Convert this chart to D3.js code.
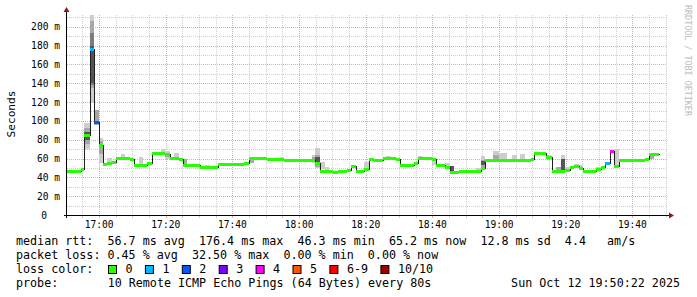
<!DOCTYPE html>
<html><head><meta charset="utf-8">
<script src="https://cdn.jsdelivr.net/npm/d3@7"></script>
<style>
body{margin:0;background:#fff}
svg{display:block}
text{font-family:"DejaVu Sans Mono",monospace;white-space:pre}
</style>
</head><body>
<svg id="c" width="697" height="297"></svg>
<script>
const day = "2025-10-12";
const startTime = "16:50:22", endTime = "19:50:22";

// median rtt (ms), step segments: start times, values, loss count (of 10)
const medianTimes = ["16:50:22","16:54:34","16:55:33","16:57:16","16:58:28","16:59:53","17:01:01","17:02:27","17:03:47","17:05:04",
  "17:09:21","17:10:23","17:14:22","17:15:52","17:19:51","17:21:11","17:23:53","17:25:05","17:30:21","17:35:45",
  "17:43:33","17:45:03","17:50:17","17:55:28","18:04:46","18:06:21","18:10:15","18:11:40","18:14:17","18:15:34",
  "18:16:59","18:19:33","18:20:58","18:22:33","18:25:10","18:28:59","18:30:16","18:34:28","18:35:45","18:39:47",
  "18:40:59","18:43:46","18:45:11","18:47:58","18:52:59","18:54:29","18:55:41","19:09:39","19:10:19","19:14:09",
  "19:15:43","19:19:41","19:21:07","19:22:28","19:23:49","19:25:10","19:28:59","19:30:25","19:31:41","19:33:11",
  "19:34:23","19:35:53","19:43:41","19:44:58"];
const medianEnd = "19:47:58";
const medianValues = [46.6,48.6,85.4,176.4,99.3,74.1,53.9,55.3,56.7,61.0,
  59.2,53.5,55.3,65.6,64.5,61.0,59.2,53.5,51.4,53.9,
  55.0,60.3,59.8,58.2,55.0,46.5,46.2,46.5,48.0,52.3,
  46.5,49.0,59.6,58.2,60.6,59.6,53.5,55.0,60.6,59.4,
  53.4,51.4,46.2,46.5,47.2,50.3,58.2,59.8,65.4,61.5,
  46.6,47.9,51.0,51.7,50.3,46.6,48.6,51.4,55.0,68.4,
  52.5,58.2,59.2,65.2];
const medianLoss = [0,0,0,1,2,0,0,0,0,0,
  0,0,0,0,0,0,0,0,0,0,
  0,0,0,0,0,0,0,0,0,0,
  0,0,0,0,0,0,0,0,0,0,
  0,0,0,0,0,0,0,0,0,0,
  0,0,0,0,0,0,0,0,1,4,
  0,0,0,0];

// smoke: [from, to, low ms, high ms, shade level]
const smoke = [
  ["16:55:33","16:57:16",70,98,0],["16:55:33","16:57:16",75,92,1],["16:55:33","16:57:16",80,88,3],
  ["16:57:16","16:58:28",119,212,0],["16:57:16","16:58:28",135,206,1],["16:57:16","16:58:28",138,193,2],["16:57:16","16:58:28",140,180,3],
  ["16:58:28","16:59:53",96,112,1],
  ["16:59:53","17:01:01",55,82,0],["16:59:53","17:01:01",65,79,1],
  ["17:02:27","17:03:47",55,60.5,0],
  ["17:06:34","17:07:51",61,65,0],
  ["17:11:53","17:13:05",53.5,61.4,0],
  ["17:18:34","17:19:51",65.6,70.2,0],
  ["17:19:51","17:21:11",60,68.4,0],["17:19:51","17:21:11",62,66,1],
  ["17:22:28","17:23:53",61,66,0],
  ["17:25:05","17:26:22",54.3,59.6,1],
  ["17:31:46","17:33:16",51.4,53.5,0],
  ["17:45:03","17:46:28",55,59,1],
  ["17:54:16","17:55:28",58.5,61.4,0],
  ["18:03:43","18:04:46",55,64,0],["18:03:43","18:04:46",57,62,1],
  ["18:04:46","18:06:21",49.7,71,0],["18:04:46","18:06:21",51,64,1],["18:04:46","18:06:21",56.7,61.4,3],
  ["18:06:21","18:07:42",49,56.7,0],
  ["18:07:42","18:09:03",47.9,51.4,0],
  ["18:19:33","18:20:58",49,56,0],
  ["18:25:59","18:27:39",60.6,63,0],
  ["18:35:45","18:37:15",60.6,63,0],
  ["18:39:47","18:40:59",53.5,59.2,0],
  ["18:43:46","18:45:11",51.4,55,0],
  ["18:45:11","18:46:28",46.8,52,3],
  ["18:52:59","18:54:29",47,50,0],
  ["18:54:29","18:55:41",48,62.8,0],["18:54:29","18:55:41",50,58,1],["18:54:29","18:55:41",53,57,3],
  ["18:58:09","18:59:57",58.5,68,0],["18:58:09","18:59:57",58.5,63.8,1],
  ["18:59:57","19:02:21",58.5,65.6,0],
  ["19:03:47","19:05:17",58.5,63.8,0],
  ["19:06:16","19:07:46",59,65,0],
  ["19:14:09","19:15:39",60.3,63.8,0],
  ["19:17:09","19:18:39",46.5,50.7,1],
  ["19:18:39","19:19:51",46.5,63.8,0],["19:18:39","19:19:51",46.5,59.2,3],
  ["19:19:51","19:21:07",47.9,50.7,0],
  ["19:22:28","19:23:53",51.8,54.6,0],
  ["19:23:53","19:25:10",50.3,53,0],
  ["19:28:59","19:30:25",48,51,0],
  ["19:34:23","19:35:53",52.5,70.2,0],
  ["19:43:41","19:44:58",58,61,0],
  ["19:44:58","19:46:23",59.2,65,1]
];
const smokeShades = ["#cdcdcd","#a8a8a8","#7c7c7c","#555555"];

const yMax = 212.5;
const yMinorTicks = d3.range(10, 211, 10);
const yMajorTicks = d3.range(0, 201, 20);
const xLabelTicks = ["17:00","17:20","17:40","18:00","18:20","18:40","19:00","19:20","19:40"];

const lossLabels = ["0","1","2","3","4","5","6-9","10/10"];
const lossColors = ["#26ff00","#00b8ff","#0059ff","#7e00ff","#ff00ff","#ff5500","#ff0000","#a10000"];

const rttStats = ["56.7","176.4","46.3","65.2","12.8"];
const rttAmS = "4.4";
const lossStats = ["0.45","32.50","0.00","0.00"];
const probeText = "10 Remote ICMP Echo Pings (64 Bytes) every 80s";
const stampText = "Sun Oct 12 19:50:22 2025";

const parse = d3.timeParse("%Y-%m-%d %H:%M:%S");
const T = s => parse(day + " " + (s.length === 5 ? s + ":00" : s));

const svg = d3.select("#c");
const L = 67, R = 667, B = 215, TOP = 15;
const x = d3.scaleTime().domain([T(startTime), T(endTime)]).range([L, R]);
const y = d3.scaleLinear().domain([0, yMax]).range([B, TOP]);
const px = v => Math.round(v) + 0.5;

// grid
const g = svg.append("g").attr("shape-rendering","crispEdges");
const minorCol = "rgba(128,128,128,0.38)", majorCol = "rgba(255,0,0,0.38)";
const minorX = x.ticks(d3.timeMinute.every(5)).filter(d => d.getMinutes() % 20 !== 0);
g.selectAll(".vx").data(minorX).join("line")
  .attr("x1", d => px(x(d))).attr("x2", d => px(x(d))).attr("y1", TOP).attr("y2", B)
  .attr("stroke", minorCol).attr("stroke-dasharray","1,1");
g.selectAll(".hy").data(yMinorTicks.filter(v => v % 20 !== 0)).join("line")
  .attr("x1", L).attr("x2", R).attr("y1", d => px(y(d))).attr("y2", d => px(y(d)))
  .attr("stroke", minorCol).attr("stroke-dasharray","1,1");
const majorX = xLabelTicks.map(T);
g.selectAll(".mx").data(majorX).join("line")
  .attr("x1", d => px(x(d))).attr("x2", d => px(x(d))).attr("y1", TOP).attr("y2", B)
  .attr("stroke", majorCol).attr("stroke-dasharray","1,1");
g.selectAll(".my").data(yMajorTicks.filter(v => v > 0)).join("line")
  .attr("x1", L).attr("x2", R).attr("y1", d => px(y(d))).attr("y2", d => px(y(d)))
  .attr("stroke", majorCol).attr("stroke-dasharray","1,1");

// smoke
svg.append("g").attr("shape-rendering","crispEdges").selectAll("rect").data(smoke).join("rect")
  .attr("x", d => Math.round(x(T(d[0])))).attr("width", d => Math.round(x(T(d[1]))) - Math.round(x(T(d[0]))))
  .attr("y", d => Math.round(y(d[3]))).attr("height", d => Math.round(y(d[2])) - Math.round(y(d[3])))
  .attr("fill", d => smokeShades[d[4]]);

// median line
const pts = medianTimes.map((t, i) => [x(T(t)), y(medianValues[i])]);
pts.push([x(T(medianEnd)), y(medianValues[medianValues.length - 1])]);
svg.append("path").attr("d", d3.line().curve(d3.curveStepAfter)(pts.map(p => [Math.round(p[0]) + 0.5, Math.round(p[1]) + 0.5])))
  .attr("fill","none").attr("stroke","#202020").attr("stroke-width",1).attr("shape-rendering","crispEdges");

// loss colored bands
const ends = medianTimes.slice(1).concat([medianEnd]);
svg.append("g").attr("shape-rendering","crispEdges").selectAll("rect").data(medianTimes).join("rect")
  .attr("x", (d, i) => Math.round(x(T(d))))
  .attr("width", (d, i) => Math.round(x(T(ends[i]))) - Math.round(x(T(d))))
  .attr("y", (d, i) => Math.round(y(medianValues[i])) - 1)
  .attr("height", 3)
  .attr("fill", (d, i) => lossColors[medianLoss[i]]);

// axes
const ax = svg.append("g").attr("shape-rendering","crispEdges");
ax.append("line").attr("x1", L - 3).attr("x2", R + 3).attr("y1", B + 0.5).attr("y2", B + 0.5).attr("stroke","#000");
ax.append("line").attr("x1", L - 0.5).attr("x2", L - 0.5).attr("y1", B + 3).attr("y2", TOP - 4).attr("stroke","#000");
svg.append("path").attr("d", `M${L-3.5},${TOP-3}L${L+2.5},${TOP-3}L${L-0.5},${TOP-8}Z`).attr("fill","#8b1a1a");
svg.append("path").attr("d", `M${R+2},${B-2.5}L${R+2},${B+3.5}L${R+7},${B+0.5}Z`).attr("fill","#8b1a1a");
// small ticks
ax.selectAll(".tk").data(x.ticks(d3.timeMinute.every(5))).join("line")
  .attr("x1", d => px(x(d))).attr("x2", d => px(x(d))).attr("y1", B + 1).attr("y2", B + 3)
  .attr("stroke", d => d.getMinutes() % 20 === 0 ? majorCol : minorCol);

// axis labels
const axisFont = "9.6px";
svg.append("g").selectAll("text").data(majorX).join("text")
  .attr("x", d => x(d)).attr("y", 228).attr("text-anchor","middle")
  .attr("font-size", axisFont).attr("fill","#000")
  .text(d => d3.timeFormat("%H:%M")(d));
svg.append("g").selectAll("text").data(yMajorTicks).join("text")
  .attr("x", d => d === 0 ? 47 : 60).attr("y", d => y(d) + 3.5).attr("text-anchor","end")
  .attr("font-size", axisFont).attr("fill","#000")
  .text(d => d === 0 ? "0" : d + " m");

svg.append("text").attr("transform","translate(14.5,114) rotate(-90)").attr("text-anchor","middle")
  .attr("font-size","11.2px").attr("fill","#000").text("Seconds");
svg.append("text").attr("transform","translate(685,5) rotate(90)")
  .attr("font-size","8.4px").attr("fill","#bbbbbb").text("RRDTOOL / TOBI OETIKER");

// legend
const LF = "11.7px", CW = 7.05;
const line1 = `median rtt:  ${rttStats[0]} ms avg  ${rttStats[1]} ms max  ${rttStats[2]} ms min  ${rttStats[3]} ms now  ${rttStats[4]} ms sd  ${rttAmS}   am/s`;
const line2 = `packet loss: ${lossStats[0]} % avg  ${lossStats[1]} % max  ${lossStats[2]} % min  ${lossStats[3]} % now`;
const lg = svg.append("g").attr("font-size", LF).attr("fill","#000");
lg.append("text").attr("x",16).attr("y",245).text(line1);
lg.append("text").attr("x",16).attr("y",259).text(line2);
lg.append("text").attr("x",16).attr("y",273).text("loss color:");
lg.append("text").attr("x",16).attr("y",287).text("probe:");
lg.append("text").attr("x",16 + 13 * CW).attr("y",287).text(probeText);
lg.append("text").attr("x",680).attr("y",287).attr("text-anchor","end").text(stampText);

let sx = 108.5;
const sw = [];
lossLabels.forEach((l, i) => { sw.push(sx); sx += 36.9 + (l.length - 1) * CW; });
const sg = svg.append("g");
sg.selectAll("rect").data(lossLabels).join("rect")
  .attr("x", (d, i) => sw[i]).attr("y", 265.5).attr("width", 8).attr("height", 8)
  .attr("fill", (d, i) => lossColors[i]).attr("stroke","#000").attr("stroke-width",1);
sg.selectAll("text").data(lossLabels).join("text")
  .attr("x", (d, i) => sw[i] + 17).attr("y", 273).attr("font-size", LF).attr("fill","#000").text(d => d);
</script>
</body></html>
